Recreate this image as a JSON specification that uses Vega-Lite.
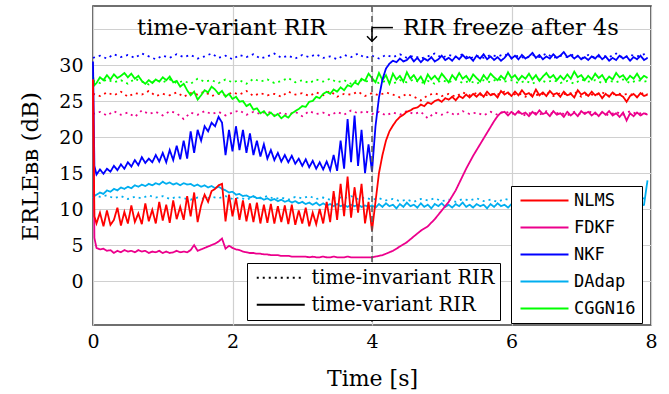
{
"$schema": "https://vega.github.io/schema/vega-lite/v6.json",
"width": 558, "height": 319,
"autosize": "none",
"padding": {"left": 93, "top": 6, "right": 18, "bottom": 69},
"config": {
  "view": {"stroke": "#404040", "strokeWidth": 1.6},
  "font": "DejaVu Serif",
  "axis": {"domain": false, "ticks": false, "grid": true, "gridColor": "#d0d0d0", "gridWidth": 1.2,
    "labelFont": "DejaVu Serif", "labelFontSize": 19, "labelColor": "black",
    "titleFont": "DejaVu Serif", "titleFontSize": 22, "titleFontWeight": "normal", "titleColor": "black"}
},
"datasets": {
"inv": [
{"t":0,"NLMS":26.0,"FDKF":23.2,"NKF":31.0,"DAdap":12.0,"CGGN16":27.8},
{"t":0.1,"NLMS":25.7,"FDKF":23.5,"NKF":31.3,"DAdap":11.7,"CGGN16":27.5},
{"t":0.2,"NLMS":26.2,"FDKF":23.0,"NKF":30.9,"DAdap":11.9,"CGGN16":28.0},
{"t":0.3,"NLMS":25.8,"FDKF":23.6,"NKF":31.5,"DAdap":11.5,"CGGN16":27.6},
{"t":0.4,"NLMS":26.3,"FDKF":23.1,"NKF":31.1,"DAdap":11.8,"CGGN16":27.9},
{"t":0.5,"NLMS":25.6,"FDKF":23.4,"NKF":31.4,"DAdap":11.4,"CGGN16":27.4},
{"t":0.6,"NLMS":26.1,"FDKF":22.8,"NKF":31.0,"DAdap":11.7,"CGGN16":28.1},
{"t":0.7,"NLMS":25.9,"FDKF":23.7,"NKF":31.6,"DAdap":11.5,"CGGN16":27.7},
{"t":0.8,"NLMS":26.4,"FDKF":23.2,"NKF":31.2,"DAdap":11.9,"CGGN16":27.3},
{"t":0.9,"NLMS":25.7,"FDKF":23.5,"NKF":30.8,"DAdap":11.6,"CGGN16":27.9},
{"t":1.0,"NLMS":26.0,"FDKF":23.0,"NKF":31.3,"DAdap":11.8,"CGGN16":27.6},
{"t":1.1,"NLMS":25.8,"FDKF":23.6,"NKF":31.0,"DAdap":11.4,"CGGN16":28.0},
{"t":1.2,"NLMS":26.2,"FDKF":23.3,"NKF":31.5,"DAdap":11.7,"CGGN16":27.5},
{"t":1.3,"NLMS":25.6,"FDKF":22.5,"NKF":31.1,"DAdap":11.5,"CGGN16":27.8},
{"t":1.4,"NLMS":26.1,"FDKF":23.4,"NKF":31.4,"DAdap":11.3,"CGGN16":27.4},
{"t":1.5,"NLMS":25.9,"FDKF":23.1,"NKF":30.9,"DAdap":11.6,"CGGN16":28.1},
{"t":1.6,"NLMS":26.3,"FDKF":23.6,"NKF":31.2,"DAdap":11.4,"CGGN16":27.7},
{"t":1.7,"NLMS":25.7,"FDKF":23.2,"NKF":31.6,"DAdap":11.7,"CGGN16":27.9},
{"t":1.8,"NLMS":26.0,"FDKF":23.5,"NKF":31.0,"DAdap":11.5,"CGGN16":27.5},
{"t":1.9,"NLMS":25.8,"FDKF":23.0,"NKF":31.3,"DAdap":11.8,"CGGN16":28.0},
{"t":2.0,"NLMS":26.2,"FDKF":23.4,"NKF":30.8,"DAdap":11.4,"CGGN16":27.6},
{"t":2.1,"NLMS":25.9,"FDKF":23.7,"NKF":31.4,"DAdap":11.6,"CGGN16":27.9},
{"t":2.2,"NLMS":26.4,"FDKF":23.1,"NKF":31.1,"DAdap":11.3,"CGGN16":27.4},
{"t":2.3,"NLMS":25.7,"FDKF":23.5,"NKF":31.5,"DAdap":11.7,"CGGN16":28.1},
{"t":2.4,"NLMS":26.1,"FDKF":23.2,"NKF":30.9,"DAdap":11.5,"CGGN16":27.7},
{"t":2.5,"NLMS":25.8,"FDKF":23.6,"NKF":31.2,"DAdap":11.8,"CGGN16":28.0},
{"t":2.6,"NLMS":26.0,"FDKF":23.0,"NKF":31.6,"DAdap":11.4,"CGGN16":27.5},
{"t":2.7,"NLMS":25.6,"FDKF":23.4,"NKF":31.0,"DAdap":11.6,"CGGN16":27.8},
{"t":2.8,"NLMS":26.3,"FDKF":23.1,"NKF":31.3,"DAdap":11.3,"CGGN16":28.2},
{"t":2.9,"NLMS":25.9,"FDKF":23.5,"NKF":30.9,"DAdap":11.7,"CGGN16":27.6},
{"t":3.0,"NLMS":26.1,"FDKF":22.9,"NKF":31.4,"DAdap":11.5,"CGGN16":27.9},
{"t":3.1,"NLMS":25.7,"FDKF":23.6,"NKF":31.1,"DAdap":11.8,"CGGN16":27.5},
{"t":3.2,"NLMS":26.2,"FDKF":23.2,"NKF":31.5,"DAdap":11.4,"CGGN16":28.0},
{"t":3.3,"NLMS":25.8,"FDKF":23.4,"NKF":31.0,"DAdap":11.6,"CGGN16":27.7},
{"t":3.4,"NLMS":26.4,"FDKF":23.0,"NKF":31.2,"DAdap":11.3,"CGGN16":28.1},
{"t":3.5,"NLMS":25.6,"FDKF":23.5,"NKF":30.8,"DAdap":11.7,"CGGN16":27.6},
{"t":3.6,"NLMS":26.0,"FDKF":23.1,"NKF":31.4,"DAdap":11.5,"CGGN16":27.9},
{"t":3.7,"NLMS":25.9,"FDKF":23.7,"NKF":31.1,"DAdap":11.8,"CGGN16":27.4},
{"t":3.8,"NLMS":26.3,"FDKF":23.3,"NKF":31.6,"DAdap":11.4,"CGGN16":28.0},
{"t":3.9,"NLMS":25.7,"FDKF":23.6,"NKF":31.0,"DAdap":11.6,"CGGN16":27.7},
{"t":4.0,"NLMS":26.1,"FDKF":23.2,"NKF":31.3,"DAdap":11.3,"CGGN16":27.9},
{"t":4.1,"NLMS":25.8,"FDKF":23.5,"NKF":30.9,"DAdap":11.5,"CGGN16":27.5},
{"t":4.2,"NLMS":26.2,"FDKF":23.0,"NKF":31.4,"DAdap":11.2,"CGGN16":27.8},
{"t":4.3,"NLMS":25.9,"FDKF":23.4,"NKF":31.1,"DAdap":11.4,"CGGN16":27.4},
{"t":4.4,"NLMS":25.5,"FDKF":23.1,"NKF":31.5,"DAdap":11.1,"CGGN16":27.9},
{"t":4.5,"NLMS":26.0,"FDKF":23.6,"NKF":31.0,"DAdap":11.3,"CGGN16":27.6},
{"t":4.6,"NLMS":25.6,"FDKF":23.2,"NKF":31.3,"DAdap":11.0,"CGGN16":28.0},
{"t":4.7,"NLMS":25.1,"FDKF":23.5,"NKF":30.9,"DAdap":11.4,"CGGN16":27.5},
{"t":4.8,"NLMS":25.8,"FDKF":22.6,"NKF":31.2,"DAdap":11.2,"CGGN16":27.8},
{"t":4.9,"NLMS":26.1,"FDKF":23.4,"NKF":31.6,"DAdap":11.5,"CGGN16":27.4},
{"t":5.0,"NLMS":25.7,"FDKF":23.1,"NKF":31.0,"DAdap":11.1,"CGGN16":27.9},
{"t":5.1,"NLMS":26.0,"FDKF":23.5,"NKF":31.4,"DAdap":11.3,"CGGN16":27.6},
{"t":5.2,"NLMS":25.6,"FDKF":23.0,"NKF":31.1,"DAdap":11.0,"CGGN16":28.0},
{"t":5.3,"NLMS":26.2,"FDKF":23.6,"NKF":31.5,"DAdap":11.4,"CGGN16":27.5},
{"t":5.4,"NLMS":25.8,"FDKF":23.2,"NKF":30.9,"DAdap":11.2,"CGGN16":27.8},
{"t":5.5,"NLMS":26.1,"FDKF":23.4,"NKF":31.3,"DAdap":11.5,"CGGN16":27.4},
{"t":5.6,"NLMS":25.7,"FDKF":23.0,"NKF":31.0,"DAdap":11.1,"CGGN16":27.9},
{"t":5.7,"NLMS":26.0,"FDKF":23.5,"NKF":31.4,"DAdap":11.3,"CGGN16":27.6},
{"t":5.8,"NLMS":25.9,"FDKF":23.1,"NKF":31.2,"DAdap":11.0,"CGGN16":28.1},
{"t":5.9,"NLMS":26.3,"FDKF":23.6,"NKF":31.5,"DAdap":11.4,"CGGN16":27.7},
{"t":6.0,"NLMS":25.8,"FDKF":23.2,"NKF":31.0,"DAdap":11.2,"CGGN16":27.9},
{"t":6.1,"NLMS":26.1,"FDKF":23.4,"NKF":31.3,"DAdap":11.5,"CGGN16":27.5},
{"t":6.2,"NLMS":25.6,"FDKF":23.0,"NKF":30.9,"DAdap":11.1,"CGGN16":27.8},
{"t":6.3,"NLMS":26.0,"FDKF":23.5,"NKF":31.4,"DAdap":11.3,"CGGN16":27.4},
{"t":6.4,"NLMS":25.8,"FDKF":23.1,"NKF":31.1,"DAdap":11.0,"CGGN16":28.0},
{"t":6.5,"NLMS":26.2,"FDKF":23.6,"NKF":31.6,"DAdap":11.4,"CGGN16":27.6},
{"t":6.6,"NLMS":25.7,"FDKF":23.2,"NKF":31.0,"DAdap":11.2,"CGGN16":27.9},
{"t":6.7,"NLMS":26.1,"FDKF":23.4,"NKF":31.3,"DAdap":11.5,"CGGN16":27.5},
{"t":6.8,"NLMS":25.9,"FDKF":23.0,"NKF":31.1,"DAdap":11.1,"CGGN16":27.8},
{"t":6.9,"NLMS":26.3,"FDKF":23.5,"NKF":31.5,"DAdap":11.3,"CGGN16":27.4},
{"t":7.0,"NLMS":25.6,"FDKF":23.1,"NKF":30.9,"DAdap":11.0,"CGGN16":28.0},
{"t":7.1,"NLMS":26.0,"FDKF":23.6,"NKF":31.4,"DAdap":11.4,"CGGN16":27.7},
{"t":7.2,"NLMS":25.8,"FDKF":23.2,"NKF":31.0,"DAdap":11.2,"CGGN16":27.9},
{"t":7.3,"NLMS":26.2,"FDKF":23.4,"NKF":31.3,"DAdap":11.5,"CGGN16":27.5},
{"t":7.4,"NLMS":25.7,"FDKF":23.0,"NKF":31.1,"DAdap":11.1,"CGGN16":27.8},
{"t":7.5,"NLMS":26.1,"FDKF":23.5,"NKF":31.6,"DAdap":11.3,"CGGN16":27.6},
{"t":7.6,"NLMS":25.9,"FDKF":23.1,"NKF":31.0,"DAdap":11.0,"CGGN16":28.0},
{"t":7.7,"NLMS":26.0,"FDKF":23.6,"NKF":31.4,"DAdap":11.4,"CGGN16":27.5},
{"t":7.8,"NLMS":25.6,"FDKF":23.2,"NKF":31.2,"DAdap":11.2,"CGGN16":27.9},
{"t":7.9,"NLMS":26.2,"FDKF":23.4,"NKF":31.5,"DAdap":11.5,"CGGN16":27.7},
{"t":7.95,"NLMS":25.9,"FDKF":23.1,"NKF":31.0,"DAdap":11.2,"CGGN16":27.8}
],
"var": [
{"t":0,"NLMS":28,"FDKF":28,"NKF":30.5,"DAdap":11.5,"CGGN16":28.5},
{"t":0.02,"NLMS":9,"FDKF":6,"NKF":16,"DAdap":11.8,"CGGN16":27.2},
{"t":0.05,"NLMS":8.0,"FDKF":4.6,"NKF":14.8,"DAdap":12.0,"CGGN16":27.5},
{"t":0.1,"NLMS":9.5,"FDKF":4.4,"NKF":15.5,"DAdap":12.3,"CGGN16":28.3},
{"t":0.15,"NLMS":7.6,"FDKF":4.5,"NKF":14.9,"DAdap":12.1,"CGGN16":27.9},
{"t":0.2,"NLMS":9.8,"FDKF":4.2,"NKF":15.6,"DAdap":12.6,"CGGN16":28.6},
{"t":0.25,"NLMS":7.8,"FDKF":4.3,"NKF":15.2,"DAdap":12.4,"CGGN16":28.0},
{"t":0.3,"NLMS":8.5,"FDKF":3.9,"NKF":16.0,"DAdap":12.8,"CGGN16":28.7},
{"t":0.35,"NLMS":10.2,"FDKF":4.2,"NKF":15.4,"DAdap":12.6,"CGGN16":28.2},
{"t":0.4,"NLMS":7.7,"FDKF":4.0,"NKF":16.2,"DAdap":13.0,"CGGN16":28.5},
{"t":0.45,"NLMS":9.6,"FDKF":4.3,"NKF":15.6,"DAdap":12.8,"CGGN16":28.9},
{"t":0.5,"NLMS":8.0,"FDKF":4.1,"NKF":16.5,"DAdap":13.1,"CGGN16":28.3},
{"t":0.55,"NLMS":10.5,"FDKF":4.2,"NKF":15.9,"DAdap":12.9,"CGGN16":28.8},
{"t":0.6,"NLMS":8.2,"FDKF":4.0,"NKF":16.8,"DAdap":13.3,"CGGN16":28.1},
{"t":0.65,"NLMS":9.4,"FDKF":4.3,"NKF":16.1,"DAdap":13.1,"CGGN16":28.5},
{"t":0.7,"NLMS":7.9,"FDKF":4.1,"NKF":17.2,"DAdap":13.4,"CGGN16":27.8},
{"t":0.75,"NLMS":10.8,"FDKF":4.2,"NKF":16.4,"DAdap":13.2,"CGGN16":27.4},
{"t":0.8,"NLMS":8.3,"FDKF":3.9,"NKF":17.0,"DAdap":13.5,"CGGN16":27.9},
{"t":0.85,"NLMS":9.9,"FDKF":4.1,"NKF":16.5,"DAdap":13.3,"CGGN16":27.5},
{"t":0.9,"NLMS":8.0,"FDKF":4.0,"NKF":17.5,"DAdap":13.6,"CGGN16":28.0},
{"t":0.95,"NLMS":11.0,"FDKF":4.2,"NKF":16.6,"DAdap":13.4,"CGGN16":27.7},
{"t":1.0,"NLMS":8.4,"FDKF":3.9,"NKF":17.8,"DAdap":13.8,"CGGN16":28.3},
{"t":1.05,"NLMS":10.6,"FDKF":4.1,"NKF":16.5,"DAdap":13.5,"CGGN16":27.9},
{"t":1.1,"NLMS":8.1,"FDKF":3.9,"NKF":18.2,"DAdap":13.7,"CGGN16":28.4},
{"t":1.15,"NLMS":11.2,"FDKF":4.0,"NKF":16.8,"DAdap":13.4,"CGGN16":27.6},
{"t":1.2,"NLMS":8.6,"FDKF":4.2,"NKF":18.8,"DAdap":13.6,"CGGN16":27.8},
{"t":1.25,"NLMS":10.3,"FDKF":4.0,"NKF":16.9,"DAdap":13.3,"CGGN16":27.0},
{"t":1.3,"NLMS":8.5,"FDKF":4.1,"NKF":19.5,"DAdap":13.6,"CGGN16":27.4},
{"t":1.35,"NLMS":11.8,"FDKF":4.0,"NKF":17.0,"DAdap":13.4,"CGGN16":26.5},
{"t":1.4,"NLMS":9.0,"FDKF":4.3,"NKF":20.8,"DAdap":13.5,"CGGN16":25.8},
{"t":1.45,"NLMS":12.3,"FDKF":5.0,"NKF":17.8,"DAdap":13.2,"CGGN16":26.3},
{"t":1.5,"NLMS":8.2,"FDKF":4.2,"NKF":21.0,"DAdap":13.4,"CGGN16":25.2},
{"t":1.55,"NLMS":10.5,"FDKF":4.4,"NKF":19.5,"DAdap":13.1,"CGGN16":25.8},
{"t":1.6,"NLMS":12.0,"FDKF":4.6,"NKF":21.5,"DAdap":13.3,"CGGN16":26.5},
{"t":1.65,"NLMS":11.0,"FDKF":4.8,"NKF":20.8,"DAdap":13.0,"CGGN16":26.2},
{"t":1.7,"NLMS":12.5,"FDKF":5.0,"NKF":22.0,"DAdap":13.2,"CGGN16":27.0},
{"t":1.75,"NLMS":12.8,"FDKF":5.2,"NKF":21.5,"DAdap":12.9,"CGGN16":26.6},
{"t":1.8,"NLMS":13.3,"FDKF":5.5,"NKF":22.8,"DAdap":13.1,"CGGN16":26.0},
{"t":1.85,"NLMS":13.5,"FDKF":5.9,"NKF":22.0,"DAdap":12.8,"CGGN16":26.4},
{"t":1.9,"NLMS":8.3,"FDKF":4.5,"NKF":17.5,"DAdap":12.6,"CGGN16":25.6},
{"t":1.95,"NLMS":12.0,"FDKF":4.9,"NKF":21.0,"DAdap":12.3,"CGGN16":26.0},
{"t":2.0,"NLMS":9.0,"FDKF":4.6,"NKF":18.0,"DAdap":12.4,"CGGN16":25.3},
{"t":2.05,"NLMS":11.5,"FDKF":4.4,"NKF":21.5,"DAdap":12.0,"CGGN16":25.6},
{"t":2.1,"NLMS":8.5,"FDKF":4.3,"NKF":18.2,"DAdap":12.1,"CGGN16":24.9},
{"t":2.15,"NLMS":11.2,"FDKF":4.1,"NKF":21.0,"DAdap":11.8,"CGGN16":25.0},
{"t":2.2,"NLMS":8.3,"FDKF":4.0,"NKF":17.8,"DAdap":11.9,"CGGN16":24.3},
{"t":2.25,"NLMS":10.8,"FDKF":3.9,"NKF":20.5,"DAdap":11.6,"CGGN16":24.6},
{"t":2.3,"NLMS":8.2,"FDKF":3.9,"NKF":17.5,"DAdap":11.8,"CGGN16":23.8},
{"t":2.35,"NLMS":10.9,"FDKF":3.8,"NKF":19.5,"DAdap":11.5,"CGGN16":24.0},
{"t":2.4,"NLMS":8.0,"FDKF":3.8,"NKF":17.3,"DAdap":11.6,"CGGN16":23.3},
{"t":2.45,"NLMS":10.6,"FDKF":3.7,"NKF":19.0,"DAdap":11.3,"CGGN16":23.6},
{"t":2.5,"NLMS":8.1,"FDKF":3.7,"NKF":17.0,"DAdap":11.5,"CGGN16":23.0},
{"t":2.55,"NLMS":10.7,"FDKF":3.6,"NKF":18.2,"DAdap":11.2,"CGGN16":23.4},
{"t":2.6,"NLMS":8.0,"FDKF":3.6,"NKF":16.8,"DAdap":11.4,"CGGN16":22.9},
{"t":2.65,"NLMS":10.4,"FDKF":3.6,"NKF":17.8,"DAdap":11.1,"CGGN16":23.2},
{"t":2.7,"NLMS":8.2,"FDKF":3.5,"NKF":16.6,"DAdap":11.3,"CGGN16":22.6},
{"t":2.75,"NLMS":10.5,"FDKF":3.5,"NKF":17.5,"DAdap":11.0,"CGGN16":23.0},
{"t":2.8,"NLMS":7.9,"FDKF":3.5,"NKF":16.5,"DAdap":11.2,"CGGN16":22.7},
{"t":2.85,"NLMS":10.6,"FDKF":3.4,"NKF":17.4,"DAdap":10.9,"CGGN16":23.3},
{"t":2.9,"NLMS":7.8,"FDKF":3.4,"NKF":16.3,"DAdap":11.1,"CGGN16":23.6},
{"t":2.95,"NLMS":9.8,"FDKF":3.4,"NKF":17.0,"DAdap":10.8,"CGGN16":23.9},
{"t":3.0,"NLMS":8.0,"FDKF":3.4,"NKF":16.0,"DAdap":11.0,"CGGN16":24.3},
{"t":3.05,"NLMS":10.2,"FDKF":3.4,"NKF":16.9,"DAdap":10.7,"CGGN16":24.2},
{"t":3.1,"NLMS":7.6,"FDKF":3.3,"NKF":15.8,"DAdap":10.9,"CGGN16":24.9},
{"t":3.15,"NLMS":9.5,"FDKF":3.4,"NKF":16.7,"DAdap":10.6,"CGGN16":25.0},
{"t":3.2,"NLMS":7.9,"FDKF":3.3,"NKF":15.6,"DAdap":10.9,"CGGN16":25.6},
{"t":3.25,"NLMS":10.0,"FDKF":3.3,"NKF":16.5,"DAdap":10.5,"CGGN16":25.4},
{"t":3.3,"NLMS":8.0,"FDKF":3.4,"NKF":15.5,"DAdap":10.8,"CGGN16":26.0},
{"t":3.35,"NLMS":11.0,"FDKF":3.3,"NKF":16.6,"DAdap":10.5,"CGGN16":26.3},
{"t":3.4,"NLMS":8.2,"FDKF":3.3,"NKF":15.4,"DAdap":10.7,"CGGN16":26.0},
{"t":3.45,"NLMS":12.5,"FDKF":3.4,"NKF":17.5,"DAdap":10.4,"CGGN16":26.6},
{"t":3.5,"NLMS":8.5,"FDKF":3.3,"NKF":15.3,"DAdap":10.7,"CGGN16":26.3},
{"t":3.55,"NLMS":13.5,"FDKF":3.3,"NKF":19.5,"DAdap":10.4,"CGGN16":26.9},
{"t":3.6,"NLMS":9.0,"FDKF":3.3,"NKF":15.6,"DAdap":10.6,"CGGN16":26.5},
{"t":3.65,"NLMS":14.5,"FDKF":3.4,"NKF":22.5,"DAdap":10.3,"CGGN16":27.2},
{"t":3.7,"NLMS":8.8,"FDKF":3.3,"NKF":16.5,"DAdap":10.6,"CGGN16":27.0},
{"t":3.75,"NLMS":13.0,"FDKF":3.3,"NKF":23.0,"DAdap":10.4,"CGGN16":27.6},
{"t":3.8,"NLMS":9.5,"FDKF":3.3,"NKF":16.0,"DAdap":10.6,"CGGN16":27.3},
{"t":3.85,"NLMS":13.5,"FDKF":3.3,"NKF":21.0,"DAdap":10.3,"CGGN16":28.1},
{"t":3.9,"NLMS":8.0,"FDKF":3.3,"NKF":15.0,"DAdap":10.5,"CGGN16":27.8},
{"t":3.95,"NLMS":11.0,"FDKF":3.3,"NKF":19.0,"DAdap":10.3,"CGGN16":28.8},
{"t":4.0,"NLMS":7.0,"FDKF":3.3,"NKF":15.2,"DAdap":10.5,"CGGN16":28.2},
{"t":4.05,"NLMS":11.0,"FDKF":3.4,"NKF":21.5,"DAdap":10.2,"CGGN16":27.6},
{"t":4.1,"NLMS":15.0,"FDKF":3.5,"NKF":25.5,"DAdap":10.7,"CGGN16":28.9},
{"t":4.15,"NLMS":17.5,"FDKF":3.6,"NKF":28.0,"DAdap":10.3,"CGGN16":27.9},
{"t":4.2,"NLMS":19.5,"FDKF":3.8,"NKF":29.5,"DAdap":10.8,"CGGN16":28.6},
{"t":4.25,"NLMS":20.8,"FDKF":4.0,"NKF":30.2,"DAdap":10.4,"CGGN16":27.4},
{"t":4.3,"NLMS":21.6,"FDKF":4.2,"NKF":30.6,"DAdap":10.6,"CGGN16":28.8},
{"t":4.35,"NLMS":22.3,"FDKF":4.5,"NKF":30.4,"DAdap":10.1,"CGGN16":28.0},
{"t":4.4,"NLMS":22.8,"FDKF":4.8,"NKF":30.9,"DAdap":10.7,"CGGN16":28.5},
{"t":4.45,"NLMS":23.1,"FDKF":5.1,"NKF":30.5,"DAdap":10.3,"CGGN16":27.7},
{"t":4.5,"NLMS":23.5,"FDKF":5.4,"NKF":30.7,"DAdap":10.9,"CGGN16":29.0},
{"t":4.55,"NLMS":23.7,"FDKF":5.8,"NKF":31.2,"DAdap":10.4,"CGGN16":28.1},
{"t":4.6,"NLMS":24.0,"FDKF":6.2,"NKF":30.5,"DAdap":10.6,"CGGN16":28.6},
{"t":4.65,"NLMS":24.1,"FDKF":6.6,"NKF":31.0,"DAdap":10.2,"CGGN16":27.8},
{"t":4.7,"NLMS":24.5,"FDKF":7.0,"NKF":30.4,"DAdap":10.8,"CGGN16":28.4},
{"t":4.75,"NLMS":24.3,"FDKF":7.3,"NKF":30.9,"DAdap":10.3,"CGGN16":27.5},
{"t":4.8,"NLMS":24.8,"FDKF":7.6,"NKF":30.6,"DAdap":10.6,"CGGN16":28.7},
{"t":4.85,"NLMS":24.6,"FDKF":8.1,"NKF":31.1,"DAdap":10.1,"CGGN16":28.0},
{"t":4.9,"NLMS":25.0,"FDKF":8.6,"NKF":30.5,"DAdap":10.7,"CGGN16":28.5},
{"t":4.95,"NLMS":25.2,"FDKF":9.2,"NKF":30.8,"DAdap":10.4,"CGGN16":27.9},
{"t":5.0,"NLMS":24.9,"FDKF":9.8,"NKF":31.3,"DAdap":10.8,"CGGN16":28.8},
{"t":5.05,"NLMS":25.4,"FDKF":10.4,"NKF":30.7,"DAdap":10.3,"CGGN16":28.2},
{"t":5.1,"NLMS":25.2,"FDKF":11.0,"NKF":31.0,"DAdap":10.6,"CGGN16":27.6},
{"t":5.15,"NLMS":25.6,"FDKF":11.8,"NKF":30.6,"DAdap":10.2,"CGGN16":28.6},
{"t":5.2,"NLMS":25.1,"FDKF":12.6,"NKF":31.2,"DAdap":10.7,"CGGN16":28.0},
{"t":5.25,"NLMS":25.7,"FDKF":13.6,"NKF":30.8,"DAdap":10.4,"CGGN16":28.9},
{"t":5.3,"NLMS":25.4,"FDKF":14.6,"NKF":31.4,"DAdap":10.9,"CGGN16":28.1},
{"t":5.35,"NLMS":25.9,"FDKF":15.6,"NKF":30.9,"DAdap":10.3,"CGGN16":28.5},
{"t":5.4,"NLMS":25.5,"FDKF":16.5,"NKF":31.1,"DAdap":10.6,"CGGN16":27.8},
{"t":5.45,"NLMS":26.0,"FDKF":17.4,"NKF":30.6,"DAdap":10.2,"CGGN16":28.7},
{"t":5.5,"NLMS":25.6,"FDKF":18.2,"NKF":31.3,"DAdap":10.7,"CGGN16":28.2},
{"t":5.55,"NLMS":26.1,"FDKF":19.0,"NKF":30.9,"DAdap":10.4,"CGGN16":27.7},
{"t":5.6,"NLMS":25.6,"FDKF":19.8,"NKF":31.5,"DAdap":10.6,"CGGN16":28.6},
{"t":5.65,"NLMS":26.3,"FDKF":20.6,"NKF":30.8,"DAdap":10.1,"CGGN16":28.0},
{"t":5.7,"NLMS":25.8,"FDKF":21.4,"NKF":31.2,"DAdap":10.7,"CGGN16":28.8},
{"t":5.75,"NLMS":26.0,"FDKF":22.2,"NKF":30.7,"DAdap":10.3,"CGGN16":28.3},
{"t":5.8,"NLMS":25.5,"FDKF":22.9,"NKF":31.1,"DAdap":10.8,"CGGN16":27.9},
{"t":5.85,"NLMS":26.4,"FDKF":23.4,"NKF":30.6,"DAdap":10.4,"CGGN16":28.5},
{"t":5.9,"NLMS":25.9,"FDKF":23.5,"NKF":31.0,"DAdap":10.6,"CGGN16":28.0},
{"t":5.95,"NLMS":26.2,"FDKF":23.0,"NKF":31.6,"DAdap":10.2,"CGGN16":29.0},
{"t":6.0,"NLMS":25.7,"FDKF":23.5,"NKF":30.9,"DAdap":10.7,"CGGN16":28.2},
{"t":6.05,"NLMS":26.3,"FDKF":23.1,"NKF":31.3,"DAdap":10.3,"CGGN16":28.6},
{"t":6.1,"NLMS":25.8,"FDKF":23.6,"NKF":30.8,"DAdap":10.6,"CGGN16":27.9},
{"t":6.15,"NLMS":26.5,"FDKF":23.2,"NKF":31.4,"DAdap":10.2,"CGGN16":28.5},
{"t":6.2,"NLMS":25.9,"FDKF":23.4,"NKF":30.9,"DAdap":10.8,"CGGN16":28.1},
{"t":6.25,"NLMS":26.1,"FDKF":22.9,"NKF":31.2,"DAdap":10.4,"CGGN16":28.8},
{"t":6.3,"NLMS":25.6,"FDKF":23.5,"NKF":31.7,"DAdap":10.6,"CGGN16":28.0},
{"t":6.35,"NLMS":26.6,"FDKF":23.1,"NKF":31.0,"DAdap":10.1,"CGGN16":28.6},
{"t":6.4,"NLMS":25.8,"FDKF":23.7,"NKF":31.4,"DAdap":10.7,"CGGN16":27.8},
{"t":6.45,"NLMS":26.2,"FDKF":23.2,"NKF":30.8,"DAdap":10.3,"CGGN16":28.4},
{"t":6.5,"NLMS":25.7,"FDKF":23.4,"NKF":31.2,"DAdap":10.9,"CGGN16":28.9},
{"t":6.55,"NLMS":26.4,"FDKF":22.9,"NKF":30.9,"DAdap":10.4,"CGGN16":28.2},
{"t":6.6,"NLMS":25.9,"FDKF":23.6,"NKF":31.5,"DAdap":10.6,"CGGN16":28.6},
{"t":6.65,"NLMS":26.1,"FDKF":23.1,"NKF":31.0,"DAdap":10.2,"CGGN16":27.9},
{"t":6.7,"NLMS":25.6,"FDKF":23.3,"NKF":31.3,"DAdap":10.7,"CGGN16":28.5},
{"t":6.75,"NLMS":26.3,"FDKF":22.8,"NKF":31.8,"DAdap":10.3,"CGGN16":28.0},
{"t":6.8,"NLMS":25.8,"FDKF":23.5,"NKF":31.1,"DAdap":10.6,"CGGN16":28.7},
{"t":6.85,"NLMS":26.0,"FDKF":23.0,"NKF":31.4,"DAdap":10.1,"CGGN16":28.1},
{"t":6.9,"NLMS":25.5,"FDKF":23.4,"NKF":30.9,"DAdap":10.7,"CGGN16":29.1},
{"t":6.95,"NLMS":26.5,"FDKF":22.9,"NKF":31.3,"DAdap":10.4,"CGGN16":28.3},
{"t":7.0,"NLMS":25.9,"FDKF":23.6,"NKF":30.8,"DAdap":10.8,"CGGN16":28.6},
{"t":7.05,"NLMS":26.2,"FDKF":23.2,"NKF":31.1,"DAdap":10.3,"CGGN16":27.9},
{"t":7.1,"NLMS":25.7,"FDKF":23.5,"NKF":30.7,"DAdap":10.6,"CGGN16":28.5},
{"t":7.15,"NLMS":26.3,"FDKF":23.0,"NKF":31.2,"DAdap":10.2,"CGGN16":28.0},
{"t":7.2,"NLMS":25.8,"FDKF":23.4,"NKF":30.9,"DAdap":10.7,"CGGN16":28.8},
{"t":7.25,"NLMS":26.1,"FDKF":22.9,"NKF":31.4,"DAdap":10.4,"CGGN16":28.2},
{"t":7.3,"NLMS":25.4,"FDKF":23.5,"NKF":30.8,"DAdap":10.6,"CGGN16":28.6},
{"t":7.35,"NLMS":26.0,"FDKF":23.1,"NKF":31.2,"DAdap":10.1,"CGGN16":27.8},
{"t":7.4,"NLMS":25.6,"FDKF":23.6,"NKF":30.6,"DAdap":10.7,"CGGN16":28.4},
{"t":7.45,"NLMS":26.2,"FDKF":23.0,"NKF":31.0,"DAdap":10.3,"CGGN16":28.0},
{"t":7.5,"NLMS":25.8,"FDKF":23.3,"NKF":30.7,"DAdap":10.8,"CGGN16":28.9},
{"t":7.55,"NLMS":25.9,"FDKF":22.8,"NKF":31.3,"DAdap":10.4,"CGGN16":28.3},
{"t":7.6,"NLMS":25.6,"FDKF":23.4,"NKF":30.9,"DAdap":10.6,"CGGN16":28.6},
{"t":7.65,"NLMS":24.9,"FDKF":22.3,"NKF":31.2,"DAdap":10.2,"CGGN16":27.9},
{"t":7.7,"NLMS":25.7,"FDKF":23.3,"NKF":30.6,"DAdap":10.7,"CGGN16":28.5},
{"t":7.75,"NLMS":26.0,"FDKF":22.9,"NKF":31.1,"DAdap":10.3,"CGGN16":28.1},
{"t":7.8,"NLMS":25.5,"FDKF":23.4,"NKF":30.8,"DAdap":10.6,"CGGN16":28.8},
{"t":7.85,"NLMS":26.1,"FDKF":23.0,"NKF":31.3,"DAdap":10.4,"CGGN16":28.0},
{"t":7.9,"NLMS":25.7,"FDKF":23.3,"NKF":30.7,"DAdap":10.6,"CGGN16":28.5},
{"t":7.95,"NLMS":25.9,"FDKF":23.1,"NKF":31.0,"DAdap":14.0,"CGGN16":28.2}
]
},
"layer": [
{
  "data": {"name": "inv"},
  "transform": [{"fold": ["CGGN16", "DAdap", "NKF", "FDKF", "NLMS"], "as": ["method", "value"]}],
  "mark": {"type": "line", "strokeWidth": 1.8},
  "encoding": {
    "x": {"field": "t", "type": "quantitative", "scale": {"domain": [0, 8], "nice": false},
      "axis": {"values": [0, 2, 4, 6, 8], "format": "d", "title": "Time [s]", "labelPadding": 7, "labelFlush": false, "labelOverlap": false,
        "titleX": 279, "titleY": 53, "titleAlign": "center", "titleBaseline": "middle"}},
    "y": {"field": "value", "type": "quantitative", "scale": {"domain": [-6.1, 38.2], "nice": false, "zero": false},
      "axis": {"values": [0, 5, 10, 15, 20, 25, 30, 35], "labelExpr": "datum.value > 30 ? '' : datum.label", "title": "ERLEʙʙ (dB)",
        "labelPadding": 10, "titleFontSize": 23, "titleX": -56, "titleY": 160, "titleAngle": 270, "titleAlign": "center", "titleBaseline": "alphabetic"}},
    "color": {"field": "method", "type": "nominal",
      "scale": {"domain": ["NLMS", "FDKF", "NKF", "DAdap", "CGGN16"], "range": ["#ff0000", "#ec008c", "#0000ff", "#00aeef", "#00ff00"]},
      "legend": {"title": null, "orient": "none", "legendX": 418, "legendY": 180, "symbolType": "M-1,0H8.6", "symbolSize": 100,
        "symbolStrokeWidth": 2, "labelFont": "DejaVu Sans Mono", "labelFontSize": 17, "labelColor": "black", "labelOffset": 40, "labelLimit": 300,
        "padding": 6, "rowPadding": 9, "strokeColor": "black", "fillColor": "white"}},
    "strokeDash": {"datum": "time-invariant RIR", "type": "nominal",
      "scale": {"domain": ["time-invariant RIR", "time-variant RIR"], "range": [[2, 4], [1, 0]]},
      "legend": {"title": null, "orient": "none", "legendX": 154, "legendY": 257, "symbolType": "M-1,0H8.6", "symbolSize": 100,
        "symbolStrokeWidth": 2, "symbolStrokeColor": "black", "labelFont": "DejaVu Serif", "labelFontSize": 19.5, "labelColor": "black",
        "labelOffset": 40, "labelLimit": 400, "padding": 5, "rowPadding": 6, "strokeColor": "black", "fillColor": "white"}}
  }
},
{
  "data": {"name": "var"},
  "transform": [{"fold": ["CGGN16", "DAdap", "NKF", "FDKF", "NLMS"], "as": ["method", "value"]}],
  "mark": {"type": "line", "strokeWidth": 1.8},
  "encoding": {
    "x": {"field": "t", "type": "quantitative"},
    "y": {"field": "value", "type": "quantitative"},
    "color": {"field": "method", "type": "nominal"},
    "strokeDash": {"datum": "time-variant RIR", "type": "nominal"}
  }
},
{
  "data": {"values": [{}]},
  "mark": {"type": "rule", "strokeDash": [6, 4], "color": "#555555", "strokeWidth": 1.5},
  "encoding": {"x": {"datum": 4, "type": "quantitative"}}
},
{
  "data": {"values": [{}]},
  "mark": {"type": "rule", "color": "black", "strokeWidth": 1.5},
  "encoding": {"x": {"datum": 4, "type": "quantitative"}, "y": {"datum": 35.2, "type": "quantitative"}, "y2": {"datum": 33.3}}
},
{
  "data": {"values": [{}]},
  "mark": {"type": "rule", "color": "black", "strokeWidth": 1.5},
  "encoding": {"x": {"datum": 4, "type": "quantitative"}, "x2": {"datum": 4.3}, "y": {"datum": 35.2, "type": "quantitative"}}
},
{
  "data": {"values": [{}]},
  "mark": {"type": "point", "shape": "M-1,-1L0,0L1,-1", "filled": false, "stroke": "black", "strokeWidth": 1.5, "size": 100, "opacity": 1},
  "encoding": {"x": {"datum": 4, "type": "quantitative"}, "y": {"datum": 33.3, "type": "quantitative"}}
},
{
  "data": {"values": [{}]},
  "mark": {"type": "text", "font": "DejaVu Serif", "fontSize": 22.5, "align": "center", "baseline": "middle", "color": "black"},
  "encoding": {"x": {"datum": 1.99, "type": "quantitative"}, "y": {"datum": 35.2, "type": "quantitative"}, "text": {"value": "time-variant RIR"}}
},
{
  "data": {"values": [{}]},
  "mark": {"type": "text", "font": "DejaVu Serif", "fontSize": 22.5, "align": "center", "baseline": "middle", "color": "black"},
  "encoding": {"x": {"datum": 5.99, "type": "quantitative"}, "y": {"datum": 35.2, "type": "quantitative"}, "text": {"value": "RIR freeze after 4s"}}
}
]
}
